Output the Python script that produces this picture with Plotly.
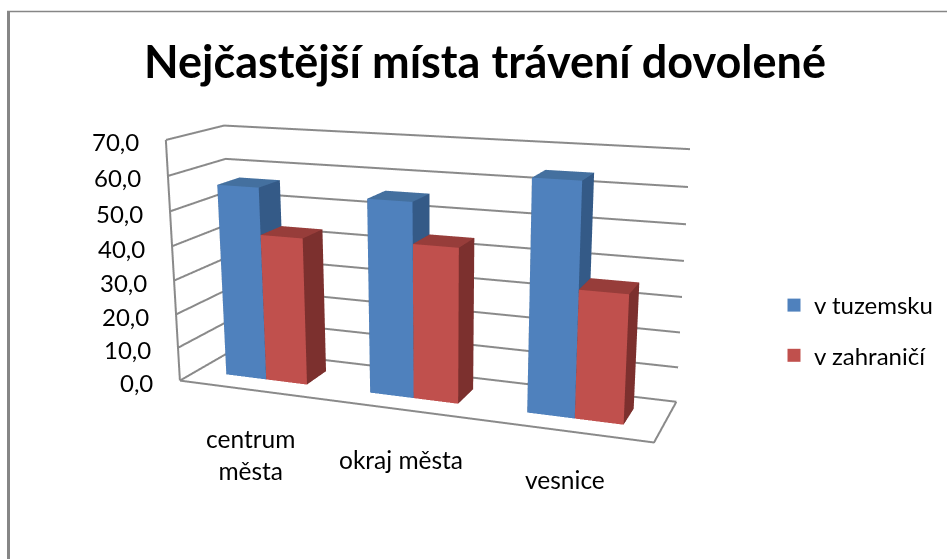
import plotly.graph_objects as go

title = "Nejčastější místa trávení dovolené"
categories = ["centrum<br>města", "okraj města", "vesnice"]
series_names = ["v tuzemsku", "v zahraničí"]
v_tuzemsku = [56.5, 55.5, 64.0]
v_zahranici = [43.0, 44.0, 35.5]
z_ticks = [0, 10, 20, 30, 40, 50, 60, 70]
z_labels = ["0,0", "10,0", "20,0", "30,0", "40,0", "50,0", "60,0", "70,0"]
cat_label_drop = [-65, -50, -49]

W, H, TOP = 947, 1045, 215      # tall page, shifted up so a 559 px window shows the chart
def py(px):
    return 1 - (px + TOP) / H

cols = [("#4F81BD", "#44709F", "#345A87"), ("#C0504D", "#973D3A", "#7C302E")]
fig = go.Figure()

def bar(x0, x1, y0, y1, h, c):
    xs = [x0, x1, x1, x0, x0, x1, x1, x0]
    ys = [y0, y0, y1, y1, y0, y0, y1, y1]
    zs = [0, 0, 0, 0, h, h, h, h]
    faces = [(0,1,5,c[0]),(0,5,4,c[0]),(1,2,6,c[2]),(1,6,5,c[2]),(4,5,6,c[1]),(4,6,7,c[1]),
             (3,2,6,c[2]),(3,6,7,c[2]),(0,3,7,c[2]),(0,7,4,c[2])]
    return go.Mesh3d(x=xs, y=ys, z=zs, i=[f[0] for f in faces], j=[f[1] for f in faces], k=[f[2] for f in faces],
                     facecolor=[f[3] for f in faces], flatshading=True, showlegend=False, hoverinfo="skip",
                     lighting=dict(ambient=1, diffuse=0, specular=0, fresnel=0, roughness=1))

bw = 1 / 3.5
for s, vals in enumerate([v_tuzemsku, v_zahranici]):
    for c, v in enumerate(vals):
        x0 = c + 0.75 * bw + s * bw
        fig.add_trace(bar(x0, x0 + bw, .3, .7, v, cols[s]))

lx, ly, lz = [], [], []
for t in z_ticks:
    lx += [0, 0, 3, None]; ly += [0, 1, 1, None]; lz += [t, t, t, None]
lx += [0, 3, 3, None, 0, 0, None]; ly += [0, 0, 1, None, 0, 0, None]; lz += [0, 0, 0, None, 0, 70, None]
fig.add_trace(go.Scatter3d(x=lx, y=ly, z=lz, mode="lines", line=dict(color="#8a8a8a", width=4),
                           showlegend=False, hoverinfo="skip"))
for s, n in enumerate(series_names):
    fig.add_trace(go.Scatter3d(x=[None], y=[None], z=[None], mode="markers", name=n, legendgroup=n,
                               marker=dict(symbol="square", color=cols[s][0], size=13)))

ann = []
for t, l in zip(z_ticks, z_labels):
    ann.append(dict(x=0, y=0, z=t, text=l, showarrow=False, xanchor="right", xshift=-25, yshift=-2,
                    font=dict(family="Lato", size=24, color="#000")))
for c, (l, d) in enumerate(zip(categories, cat_label_drop)):
    ann.append(dict(x=c + .5, y=0, z=0, text=l, showarrow=False, yshift=d,
                    font=dict(family="Lato", size=24.5, color="#000")))

axis = dict(visible=False, showspikes=False)
fig.update_layout(
    width=W, height=H, margin=dict(l=0, r=0, t=0, b=0), paper_bgcolor="white",
    title=dict(text=title, x=485 / W, xanchor="center", xref="paper", yref="paper", y=py(62), yanchor="middle",
               font=dict(family="Lato", size=45, color="#000", weight="bold")),
    legend=dict(x=774 / W, y=py(283), xanchor="left", yanchor="top", bgcolor="rgba(0,0,0,0)",
                font=dict(family="Lato", size=24, color="#000"), tracegroupgap=16, itemsizing="trace"),
    scene=dict(domain=dict(x=[0, 857.7 / W], y=[0, 1]), aspectmode="manual", dragmode="orbit", hovermode=False,
               aspectratio=dict(x=1, y=0.2322, z=0.5064),
               xaxis=dict(range=[0, 3], **axis), yaxis=dict(range=[0, 1], **axis), zaxis=dict(range=[0, 70], **axis),
               camera=dict(eye=dict(x=0.8774, y=-2.28, z=0.6105), center=dict(x=0.021, y=-0.013, z=-0.0701),
                           up=dict(x=0.0021, y=0, z=1), projection=dict(type="perspective")),
               annotations=ann),
    shapes=[dict(type="line", xref="paper", yref="paper", x0=8.5 / W, x1=8.5 / W, y0=py(559), y1=py(11),
                 line=dict(color="#868686", width=3)),
            dict(type="line", xref="paper", yref="paper", x0=7 / W, x1=1, y0=py(11.5), y1=py(11.5),
                 line=dict(color="#868686", width=1.5))])
fig.write_html("out.html", config=dict(displayModeBar=False),
               post_script="document.documentElement.style.overflow='hidden';document.body.style.overflow='hidden';"
                           "document.body.style.margin='0';document.body.style.marginTop='-%dpx';" % TOP)
